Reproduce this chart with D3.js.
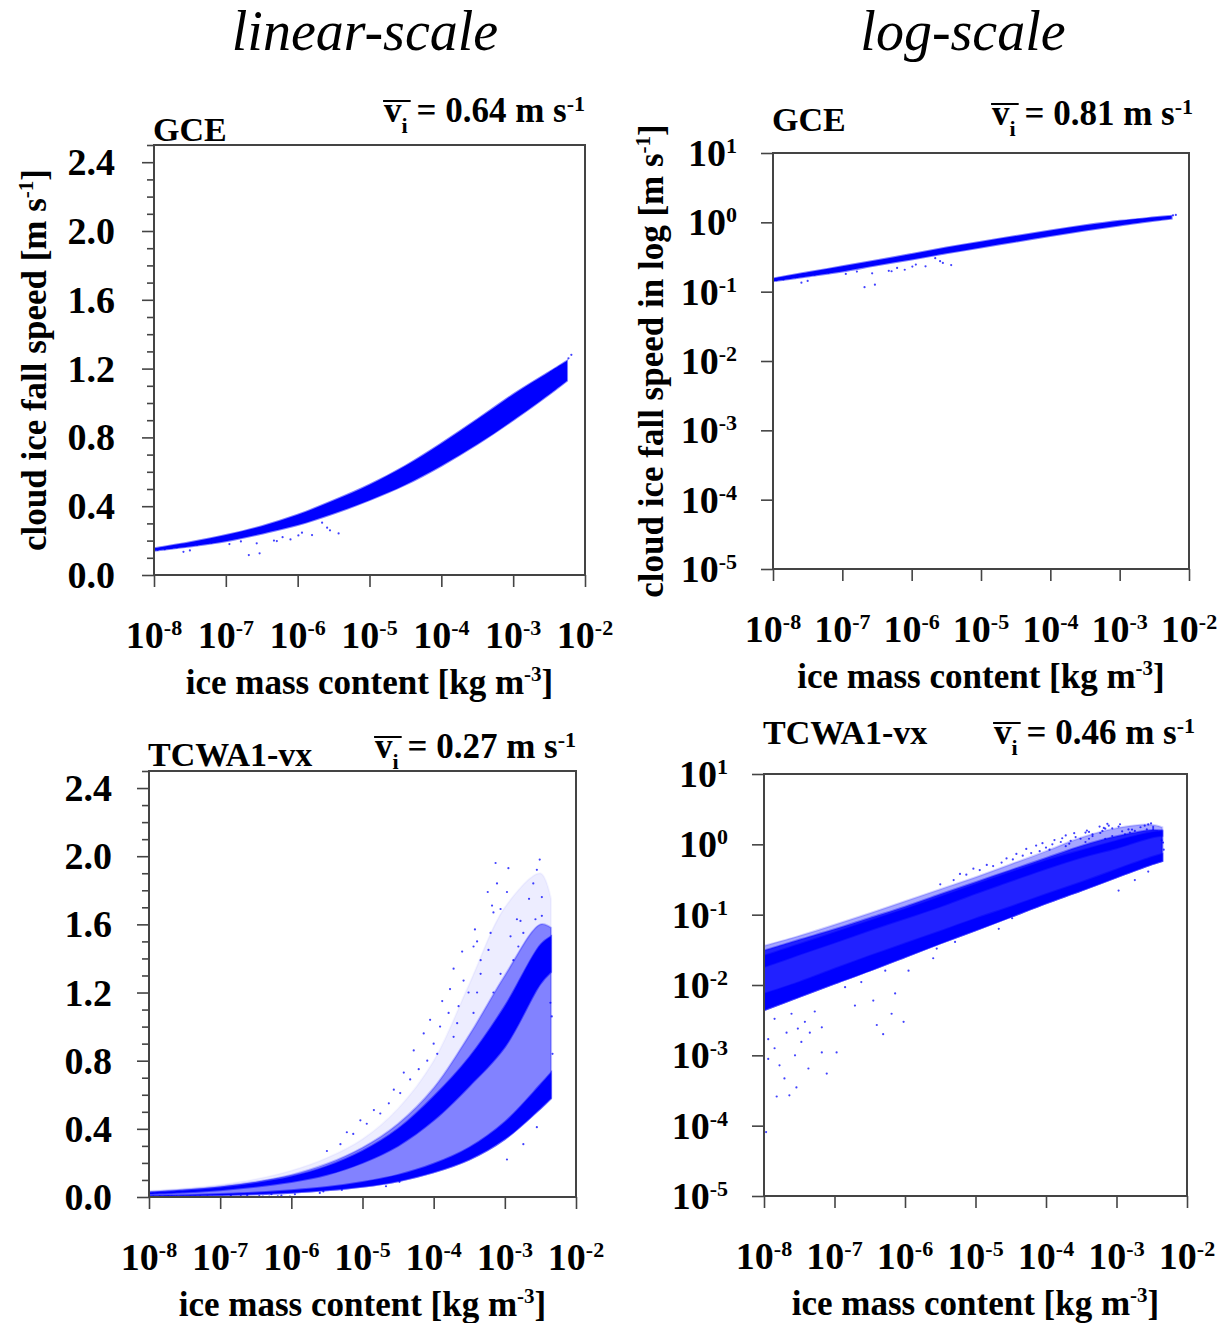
<!DOCTYPE html>
<html>
<head>
<meta charset="utf-8">
<script src="https://cdn.jsdelivr.net/npm/d3@7"></script>
<style>
    body { margin: 0; background: #fff; }
    svg text { font-family: "Liberation Serif", "Times New Roman", serif; fill: #000; }
</style>
</head>
<body>
<svg id="main" width="1220" height="1323"></svg>
<script>
const width = 1220;
const height = 1323;

// axis ticks
const linTicks = [0, 0.4, 0.8, 1.2, 1.6, 2.0, 2.4];
const linTickLabels = ['0.0', '0.4', '0.8', '1.2', '1.6', '2.0', '2.4'];
const linMinorTicks = [0.1, 0.2, 0.3, 0.5, 0.6, 0.7, 0.9, 1.0, 1.1, 1.3, 1.4, 1.5, 1.7, 1.8, 1.9, 2.1, 2.2, 2.3, 2.5];
const qExponents = [-8, -7, -6, -5, -4, -3, -2];
const vExponents = [-5, -4, -3, -2, -1, 0, 1];

// panel texts
const headers = ['linear-scale', 'log-scale'];
const modelNames = ['GCE', 'GCE', 'TCWA1-vx', 'TCWA1-vx'];
const meanSpeeds = ['0.64', '0.81', '0.27', '0.46'];

// GCE: log10(ice mass content) and the edges of the point cloud [m/s]
const gceLogQ = [-8.0, -7.5, -7.0, -6.5, -6.0, -5.5, -5.0, -4.5, -4.0, -3.5, -3.0, -2.5, -2.25];
const gceLow = [0.141, 0.166, 0.196, 0.240, 0.290, 0.357, 0.435, 0.525, 0.635, 0.76, 0.90, 1.05, 1.13];
const gceHigh = [0.155, 0.190, 0.232, 0.284, 0.350, 0.433, 0.525, 0.635, 0.765, 0.905, 1.05, 1.18, 1.245];
// GCE stray points
const gceStrayQ = [-6.68, -6.53, -7.59, -7.50, -5.43, -5.59, -5.80, -5.94, -6.10, -6.29, -6.57, -5.66,
    -7.95, -7.85, -7.75, -7.68, -7.40, -7.20, -6.95, -6.79, -6.33, -6.21, -5.99, -5.55, -2.19, -2.23];
const gceStrayV = [0.116, 0.126, 0.135, 0.143, 0.242, 0.275, 0.232, 0.246, 0.207, 0.197, 0.184, 0.304,
    0.146, 0.150, 0.158, 0.161, 0.176, 0.188, 0.180, 0.195, 0.200, 0.220, 0.230, 0.260, 1.28, 1.26];

// TCWA1-vx: log10(ice mass content) and the edges of the point cloud [m/s]
const tcwaLogQ = [-8.0, -7.5, -7.0, -6.5, -6.0, -5.5, -5.0, -4.5, -4.0, -3.5, -3.0, -2.5, -2.35];
const tcwaSparseTop = [0.036, 0.05, 0.072, 0.105, 0.155, 0.23, 0.34, 0.52, 0.80, 1.25, 1.70, 1.90, 1.75];
const tcwaBodyTop = [0.031, 0.044, 0.062, 0.09, 0.13, 0.195, 0.29, 0.43, 0.64, 0.95, 1.30, 1.60, 1.58];
const tcwaUpperHigh = [0.026, 0.038, 0.056, 0.082, 0.12, 0.18, 0.27, 0.40, 0.59, 0.82, 1.12, 1.48, 1.53];
const tcwaUpperLow = [0.018, 0.027, 0.040, 0.060, 0.088, 0.13, 0.20, 0.30, 0.45, 0.65, 0.88, 1.25, 1.32];
const tcwaLowerHigh = [0.0075, 0.011, 0.017, 0.026, 0.039, 0.058, 0.088, 0.13, 0.195, 0.29, 0.44, 0.66, 0.73];
const tcwaLowerLow = [0.0044, 0.0068, 0.0105, 0.016, 0.025, 0.039, 0.060, 0.093, 0.145, 0.22, 0.34, 0.52, 0.58];
// TCWA1-vx stray points
const tcwaStrayQ = [-7.97, -7.82, -7.64, -7.54, -7.71, -7.11, -7.37, -6.97, -7.18, -7.56, -7.85, -7.94, -7.47,
    -7.68, -7.18, -7.42, -6.31, -6.40, -6.02, -6.19, -6.71, -6.45, -6.85, -6.62, -6.14, -5.95, -5.60, -6.28,
    -5.55, -4.67, -4.48, -5.29, -7.28, -7.61, -7.85, -7.94, -7.52, -7.78, -7.35,
    -3.13, -2.95, -2.51, -2.60, -3.11, -3.24, -2.97, -2.55, -3.18, -3.16, -2.66, -2.48, -2.78, -3.42, -3.20,
    -3.60, -3.72, -3.88, -3.77, -4.05, -2.36, -2.34, -2.33, -3.44, -3.34, -2.92, -2.81, -3.58, -4.14, -4.28,
    -4.42, -4.56, -4.84, -5.03, -5.22, -2.69, -3.06, -3.39, -3.95, -3.67,
    -3.39, -3.23, -3.34, -3.51, -3.65, -3.79, -3.91, -3.72, -4.00, -4.09, -4.21, -4.33, -4.47, -4.63,
    -4.75, -4.94, -5.13, -5.31, -5.50, -3.06, -2.83, -2.74, -2.88, -2.57, -2.48, -3.44, -3.16,
    -2.74, -2.55, -2.97];
const tcwaStrayV = [8.1e-5, 2.6e-4, 2.7e-4, 3.5e-4, 4.7e-4, 5.5e-4, 6.5e-4, 1.1e-3, 1.1e-3, 1.0e-3, 1.26e-3, 8.9e-4, 1.55e-3,
    2.1e-3, 2.5e-3, 3.0e-3, 2.0e-3, 2.7e-3, 3.0e-3, 3.9e-3, 5.1e-3, 6.0e-3, 9.3e-3, 0.011, 7.6e-3, 0.016, 0.024, 0.016,
    0.033, 0.063, 0.089, 0.041, 4.2e-3, 3.9e-3, 3.3e-3, 1.7e-3, 2.4e-3, 7.2e-4, 2.1e-3,
    1.96, 1.93, 1.98, 1.84, 1.84, 1.79, 1.79, 1.92, 1.71, 1.67, 1.75, 1.76, 1.62, 1.57, 1.55,
    1.44, 1.34, 1.15, 1.22, 1.04, 1.14, 1.06, 0.84, 1.47, 1.39, 1.53, 1.47, 1.27, 0.96, 0.86,
    0.73, 0.63, 0.51, 0.45, 0.38, 1.31, 1.31, 1.20, 0.84, 1.02,
    1.50, 1.45, 1.31, 1.20, 1.12, 1.08, 1.00, 0.94, 0.90, 0.80, 0.75, 0.69, 0.61, 0.55,
    0.49, 0.43, 0.37, 0.31, 0.27, 1.69, 1.63, 1.55, 1.39, 1.63, 1.65, 1.08, 1.20,
    0.31, 0.41, 0.22];

const rows = (qs, lo, hi) => qs.map((q, i) => ({ q, lo: lo[i], hi: hi[i] }));

const gceLayers = [
    { rows: rows(gceLogQ, gceLow, gceHigh), kind: 'dense' }
];
const tcwaLayers = [
    { rows: rows(tcwaLogQ, tcwaLowerLow, tcwaSparseTop), kind: 'sparse' },
    { rows: rows(tcwaLogQ, tcwaLowerLow, tcwaBodyTop), kind: 'body' },
    { rows: rows(tcwaLogQ, tcwaUpperLow, tcwaUpperHigh), kind: 'dense' },
    { rows: rows(tcwaLogQ, tcwaLowerLow, tcwaLowerHigh), kind: 'dense' }
];

const panels = [
    { left: 154, top: 145, right: 585, bottom: 575, log: false, layers: gceLayers, strayQ: gceStrayQ, strayV: gceStrayV,
      nameY: 141, meanX: 585, meanY: 122, tickGap: 39, yTitle: 'cloud ice fall speed [m s', yTitleX: 46 },
    { left: 773, top: 153, right: 1189, bottom: 569, log: true, layers: gceLayers, strayQ: gceStrayQ, strayV: gceStrayV,
      nameY: 131, meanX: 1193, meanY: 125, tickGap: 36, yTitle: 'cloud ice fall speed in log [m s', yTitleX: 663 },
    { left: 149, top: 771, right: 576, bottom: 1197, log: false, layers: tcwaLayers, strayQ: tcwaStrayQ, strayV: tcwaStrayV,
      nameY: 766, meanX: 576, meanY: 758, tickGap: 37 },
    { left: 764, top: 774, right: 1187, bottom: 1196, log: true, layers: tcwaLayers, strayQ: tcwaStrayQ, strayV: tcwaStrayV,
      nameY: 744, meanX: 1195, meanY: 744, tickGap: 36 }
];

const opacity = {
    lin: { sparse: 0.07, body: 0.45, dense: 1 },
    log: { sparse: 0.35, body: 0.8, dense: 1 }
};

const svg = d3.select('#main');
const blue = '#0000ff';
const axisColor = '#444';

// text with a raised or lowered part, e.g. 10^-8 or [m s^-1]
function richText(sel, parts, supSize, rise) {
    let shifted = 0;
    parts.forEach(part => {
        const t = sel.append('tspan').text(part.t);
        const target = part.sup ? -rise : part.sub ? rise : 0;
        if (target !== shifted) t.attr('dy', target - shifted);
        if (part.sup || part.sub) t.attr('font-size', supSize);
        shifted = target;
    });
    return sel;
}

headers.forEach((h, i) => {
    svg.append('text')
        .attr('x', i === 0 ? 365 : 963)
        .attr('y', 50)
        .attr('text-anchor', 'middle')
        .attr('font-size', 56)
        .attr('font-style', 'italic')
        .text(h);
});

panels.forEach((p, i) => {
    const g = svg.append('g');
    const x = d3.scaleLog().domain([1e-8, 1e-2]).range([p.left, p.right]);
    const y = p.log
        ? d3.scaleLog().domain([1e-5, 10]).range([p.bottom, p.top])
        : d3.scaleLinear().domain([0, 2.5]).range([p.bottom, p.top]);
    const op = p.log ? opacity.log : opacity.lin;

    g.append('clipPath')
        .attr('id', `clip${i}`)
        .append('rect')
        .attr('x', p.left)
        .attr('y', p.top)
        .attr('width', p.right - p.left)
        .attr('height', p.bottom - p.top);

    const cloud = g.append('g').attr('clip-path', `url(#clip${i})`);

    const area = d3.area()
        .x(d => x(Math.pow(10, d.q)))
        .y0(d => y(d.lo))
        .y1(d => y(d.hi))
        .curve(d3.curveCatmullRom.alpha(0.5));

    // soft edge stroke stands in for the fuzzy rim of the point cloud
    p.layers.forEach(layer => {
        cloud.append('path')
            .attr('d', area(layer.rows))
            .attr('fill', blue)
            .attr('fill-opacity', op[layer.kind])
            .attr('stroke', blue)
            .attr('stroke-opacity', op[layer.kind] * 0.5)
            .attr('stroke-width', 2);
    });

    cloud.selectAll('.stray')
        .data(p.strayQ.map((q, k) => ({ q, v: p.strayV[k] })))
        .join('circle')
        .attr('class', 'stray')
        .attr('cx', d => x(Math.pow(10, d.q)))
        .attr('cy', d => y(d.v))
        .attr('r', 1.1)
        .attr('fill', blue)
        .attr('opacity', 0.75);

    // axes
    const xAxis = d3.axisBottom(x)
        .tickValues(qExponents.map(e => Math.pow(10, e)))
        .tickSize(12)
        .tickFormat('');
    g.append('g')
        .attr('transform', `translate(0, ${p.bottom})`)
        .call(xAxis);

    if (p.log) {
        g.append('g')
            .attr('transform', `translate(${p.left}, 0)`)
            .call(d3.axisLeft(y).tickValues(vExponents.map(e => Math.pow(10, e))).tickSize(12).tickFormat(''));
    } else {
        g.append('g')
            .attr('transform', `translate(${p.left}, 0)`)
            .call(d3.axisLeft(y).tickValues(linTicks).tickSize(12).tickFormat(''));
        g.append('g')
            .attr('transform', `translate(${p.left}, 0)`)
            .call(d3.axisLeft(y).tickValues(linMinorTicks).tickSize(7).tickFormat(''));
    }
    g.selectAll('.domain').remove();
    g.selectAll('.tick line').attr('stroke', axisColor).attr('stroke-width', 1.6);

    g.append('rect')
        .attr('x', p.left)
        .attr('y', p.top)
        .attr('width', p.right - p.left)
        .attr('height', p.bottom - p.top)
        .attr('fill', 'none')
        .attr('stroke', axisColor)
        .attr('stroke-width', 2);

    // tick labels
    qExponents.forEach(e => {
        const t = g.append('text')
            .attr('x', x(Math.pow(10, e)))
            .attr('y', p.bottom + 73)
            .attr('text-anchor', 'middle')
            .attr('font-size', 38)
            .attr('font-weight', 'bold');
        richText(t, [{ t: '10' }, { t: `${e}`, sup: true }], 22, 13);
    });

    if (p.log) {
        vExponents.forEach(e => {
            const t = g.append('text')
                .attr('x', p.left - p.tickGap)
                .attr('y', y(Math.pow(10, e)) + 13)
                .attr('text-anchor', 'end')
                .attr('font-size', 38)
                .attr('font-weight', 'bold');
            richText(t, [{ t: '10' }, { t: `${e}`, sup: true }], 22, 13);
        });
    } else {
        linTicks.forEach((v, k) => {
            g.append('text')
                .attr('x', p.left - p.tickGap)
                .attr('y', y(v) + 13)
                .attr('text-anchor', 'end')
                .attr('font-size', 38)
                .attr('font-weight', 'bold')
                .text(linTickLabels[k]);
        });
    }

    // axis titles
    const xt = g.append('text')
        .attr('x', (p.left + p.right) / 2)
        .attr('y', p.bottom + 119)
        .attr('text-anchor', 'middle')
        .attr('font-size', 35)
        .attr('font-weight', 'bold');
    richText(xt, [{ t: 'ice mass content [kg m' }, { t: '-3', sup: true }, { t: ']' }], 21, 13);

    if (p.yTitle) {
        const yt = g.append('text')
            .attr('text-anchor', 'middle')
            .attr('transform', `translate(${p.yTitleX}, ${(p.top + p.bottom) / 2}) rotate(-90)`)
            .attr('font-size', 35)
            .attr('font-weight', 'bold');
        richText(yt, [{ t: p.yTitle }, { t: '-1', sup: true }, { t: ']' }], 21, 13);
    }

    // model name and mean fall speed
    g.append('text')
        .attr('x', p.left - 1)
        .attr('y', p.nameY)
        .attr('font-size', 34)
        .attr('font-weight', 'bold')
        .text(modelNames[i]);

    const mt = g.append('text')
        .attr('x', p.meanX)
        .attr('y', p.meanY)
        .attr('text-anchor', 'end')
        .attr('font-size', 35)
        .attr('font-weight', 'bold');
    richText(mt, [
        { t: 'v' },
        { t: 'i', sub: true },
        { t: ` = ${meanSpeeds[i]} m s` },
        { t: '-1', sup: true }
    ], 22, 11);
    const node = mt.node();
    const x0 = node.getStartPositionOfChar(0).x;
    const x1 = node.getEndPositionOfChar(1).x;
    g.append('line')
        .attr('x1', x0 - 1)
        .attr('x2', x1 + 3)
        .attr('y1', p.meanY - 21)
        .attr('y2', p.meanY - 21)
        .attr('stroke', '#000')
        .attr('stroke-width', 2);
});
</script>
</body>
</html>
